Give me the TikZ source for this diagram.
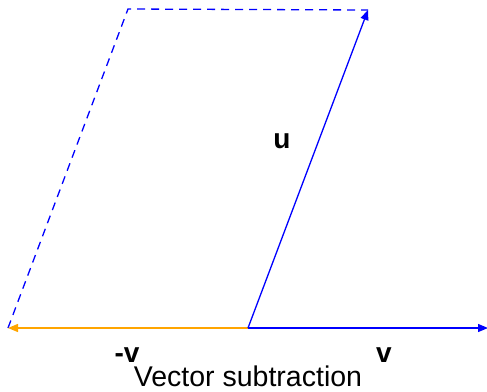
\documentclass[tikz,border=0pt]{standalone}
\usepackage{fontspec}
\setmainfont{Liberation Sans}
\usetikzlibrary{arrows.meta}
\definecolor{vorange}{RGB}{255,165,0}
\definecolor{vblue}{RGB}{0,0,255}
\begin{document}
\begin{tikzpicture}[x=1pt,y=-1pt,
  vec/.style={line width=1.3pt,-{Triangle[length=10pt,width=8pt]}},
  guide/.style={vblue,line width=1.3pt,dash pattern=on 8pt off 6pt},
  lbl/.style={font=\fontsize{28}{30}\selectfont\bfseries,inner sep=0pt},
  captext/.style={font=\fontsize{28.5}{30}\selectfont,inner sep=0pt,anchor=base}]
\useasboundingbox (0,0) rectangle (487,391);
\coordinate (O) at (248,328);
\coordinate (V) at (488,328);
\coordinate (NV) at (8,328);
\coordinate (U) at (368,10);
\coordinate (W) at (128,9);
\draw[guide] (NV) -- (W) -- (U);
\draw[vec,vorange] (O) -- (NV);
\draw[vec,vblue] (O) -- (V);
\draw[vec,vblue] (O) -- (U);
\node[lbl] (lu) at (282,141) {u};
\node[lbl] (lv) at (384,355) {v};
\node[lbl] (lnv) at (127,355) {-v};
\node[captext] (title) at (248,386) {Vector subtraction};
\end{tikzpicture}
\end{document}
